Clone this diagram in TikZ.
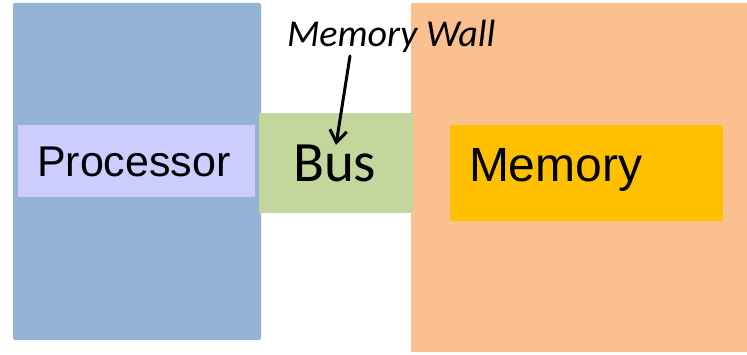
\documentclass[tikz,border=0pt]{standalone}
\usepackage{fontspec}
\setmainfont{Liberation Sans}
\newfontfamily\calibri{Carlito}
\usetikzlibrary{arrows.meta}
\definecolor{procblue}{HTML}{95B3D7}
\definecolor{proclabel}{HTML}{CCCCFF}
\definecolor{busgreen}{HTML}{C3D69B}
\definecolor{memorange}{HTML}{FAC090}
\definecolor{memlabel}{HTML}{FFC000}
\tikzset{
  block/.style={rectangle, inner sep=0pt, outer sep=0pt, draw=none},
  lbl/.style={inner sep=0pt, outer sep=0pt, anchor=base west},
}
\begin{document}
\begin{tikzpicture}[x=1pt,y=1pt]
\useasboundingbox (0,0) rectangle (747,354);
\node[block, fill=procblue, rounded corners=2pt, minimum width=248pt, minimum height=337pt] (proc) at (137,182.5) {};
\node[block, fill=memorange, minimum width=336pt, minimum height=349pt] (mem) at (579,176.5) {};
\node[block, fill=proclabel, minimum width=237pt, minimum height=72pt] (proclbl) at (136.5,193) {};
\node[lbl, font=\fontsize{43}{43}\selectfont] (proctext) at (37,178) {Processor};
\node[block, fill=busgreen, minimum width=154pt, minimum height=100pt] (bus) at (336,191) {};
\node[lbl, font=\calibri\fontsize{57}{57}\selectfont] (bustext) at (293,172) {Bus};
\node[block, fill=memlabel, minimum width=273pt, minimum height=96pt] (memlbl) at (586.5,181) {};
\node[lbl, font=\fontsize{48}{48}\selectfont] (memtext) at (469,172) {Memory};
\node[lbl, font=\calibri\itshape\fontsize{38}{38}\selectfont] (wall) at (287,307) {Memory Wall};
\coordinate (wallstart) at (350,298);
\coordinate (busin) at (336,209);
\draw[line width=3pt, line cap=round, -{Straight Barb[length=12pt,width=17pt,line width=3pt]}] (wallstart) -- (busin);
\end{tikzpicture}
\end{document}
